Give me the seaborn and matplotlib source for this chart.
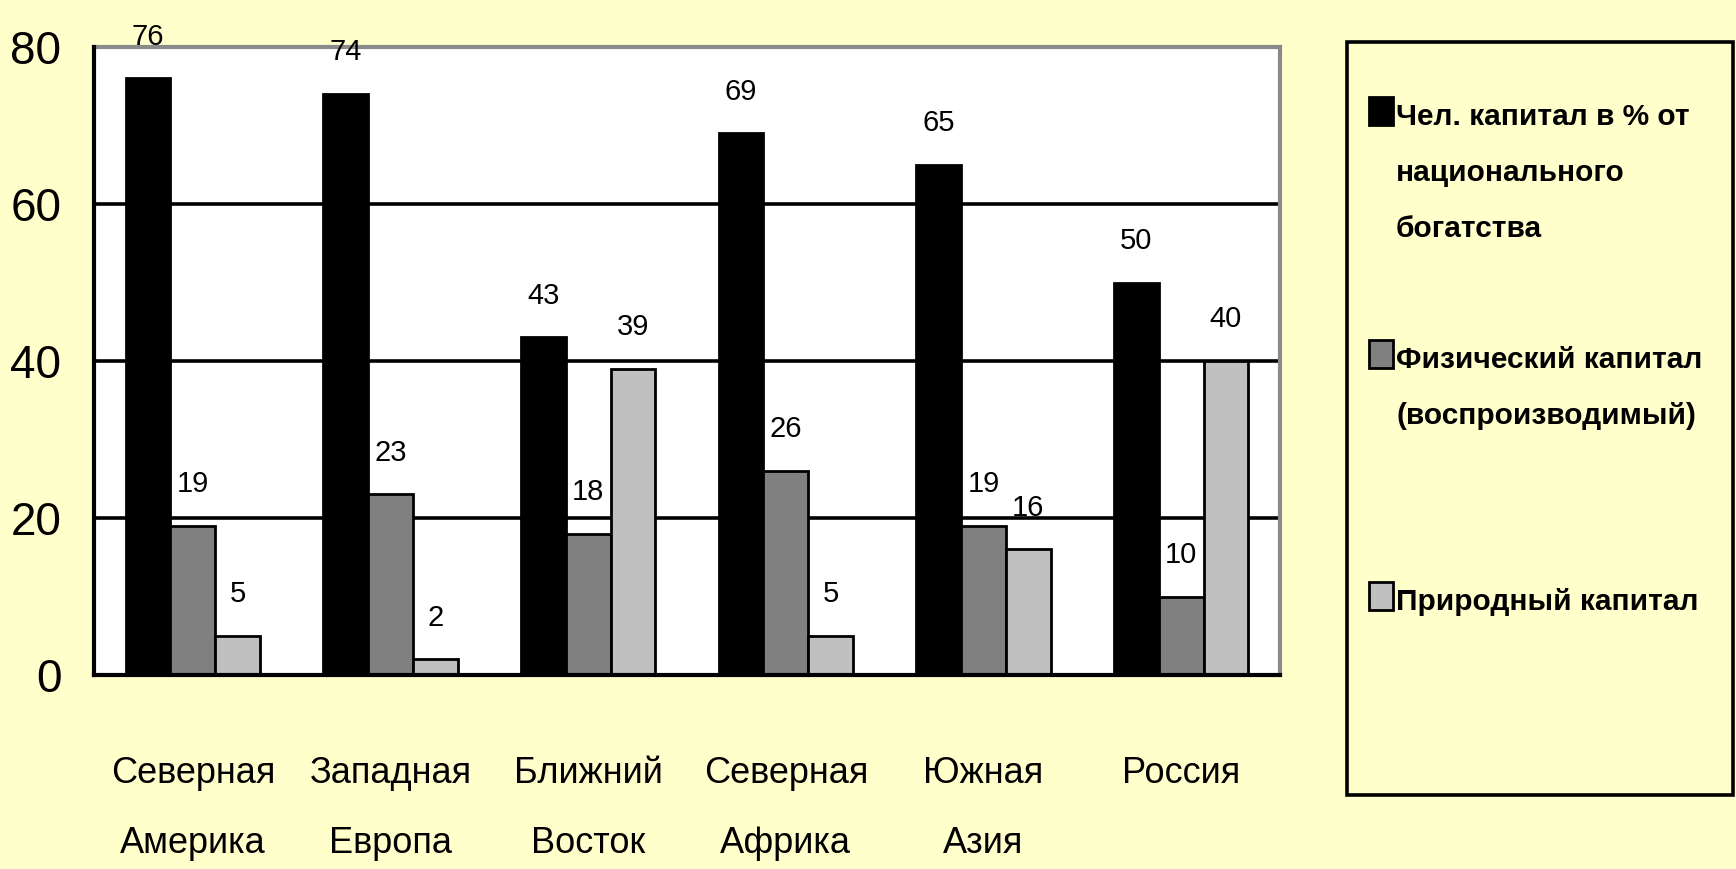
import matplotlib
matplotlib.use("Agg")
import matplotlib.pyplot as plt
import seaborn as sns
import pandas as pd
from matplotlib.patches import Rectangle

regions = ["Северная\nАмерика", "Западная\nЕвропа", "Ближний\nВосток",
           "Северная\nАфрика", "Южная\nАзия", "Россия"]
series = ["Чел. капитал в % от\nнационального\nбогатства",
          "Физический капитал\n(воспроизводимый)",
          "Природный капитал"]
human = [76, 74, 43, 69, 65, 50]
physical = [19, 23, 18, 26, 19, 10]
natural = [5, 2, 39, 5, 16, 40]
colors = ["#000000", "#808080", "#C0C0C0"]
yticks = [0, 20, 40, 60, 80]

rows = []
for name, vals in zip(series, [human, physical, natural]):
    for r, v in zip(regions, vals):
        rows.append({"region": r, "series": name, "value": v})
df = pd.DataFrame(rows)

sns.set_style("white")
FONT = ["Liberation Sans", "Arial", "DejaVu Sans"]
plt.rcParams["font.family"] = FONT
plt.rcParams["text.color"] = "black"
plt.rcParams["xtick.color"] = "black"
plt.rcParams["ytick.color"] = "black"
plt.rcParams["axes.labelcolor"] = "black"

W, H = 1736, 869
fig = plt.figure(figsize=(W / 100, H / 100), dpi=100, facecolor="#FFFFCC")
ax = fig.add_axes([94 / W, 1 - 675 / H, (1280 - 94) / W, (675 - 47) / H])
ax.set_facecolor("white")

sns.barplot(data=df, x="region", y="value", hue="series", order=regions,
            hue_order=series, palette=colors, width=0.68, gap=0,
            edgecolor="black", linewidth=2.0, saturation=1, legend=False,
            ax=ax, zorder=3)

ax.set_ylim(0, 80)
ax.set_xlim(-0.5, len(regions) - 0.5)
ax.set_yticks(yticks)
ax.set_yticklabels([str(t) for t in yticks], fontsize=33, color="black")
ax.set_xlabel("")
ax.set_ylabel("")

# grid
for t in yticks[1:-1]:
    ax.axhline(t, color="black", lw=2.6, zorder=1)

for s in ["left", "bottom"]:
    ax.spines[s].set_color("black")
    ax.spines[s].set_linewidth(3.0)
    ax.spines[s].set_zorder(5)
for s in ["top", "right"]:
    ax.spines[s].set_color("#8a8a8a")
    ax.spines[s].set_linewidth(3.0)

ax.tick_params(axis="y", direction="out", length=9.5, width=2.6, pad=14, colors="black")
ax.set_xticks(range(len(regions)))
ax.set_xticklabels(regions, fontsize=26, linespacing=2.3, color="black")
ax.tick_params(axis="x", which="major", length=0, pad=58)
ax.set_xticks([i - 0.5 for i in range(len(regions) + 1)], minor=True)
ax.tick_params(axis="x", which="minor", direction="out", length=14, width=2.6, colors="black")

# value labels
for cont in ax.containers:
    ax.bar_label(cont, fmt="%d", padding=20, fontsize=21, color="black")

# manual legend (pixel coords from top-left)
def fx(x):
    return x / W

def fy(y):
    return 1 - y / H

fig.patches.append(Rectangle((fx(1347), fy(795)), fx(1733) - fx(1347), fy(42) - fy(795),
                             transform=fig.transFigure, fill=False, edgecolor="black",
                             lw=2.6, zorder=10))
leg_baselines = [125, 368, 610]
line_pitch = 56
for name, col, base in zip(series, colors, leg_baselines):
    fig.patches.append(Rectangle((fx(1369), fy(base)), fx(1393) - fx(1369), fy(base - 28) - fy(base),
                                 transform=fig.transFigure, facecolor=col, edgecolor="black",
                                 lw=2.0, zorder=10))
    for k, line in enumerate(name.split("\n")):
        fig.text(fx(1396), fy(base + k * line_pitch), line, fontsize=21.5,
                 fontweight="bold", va="baseline", ha="left", color="black")

fig.savefig("out.png", dpi=100, facecolor=fig.get_facecolor())
